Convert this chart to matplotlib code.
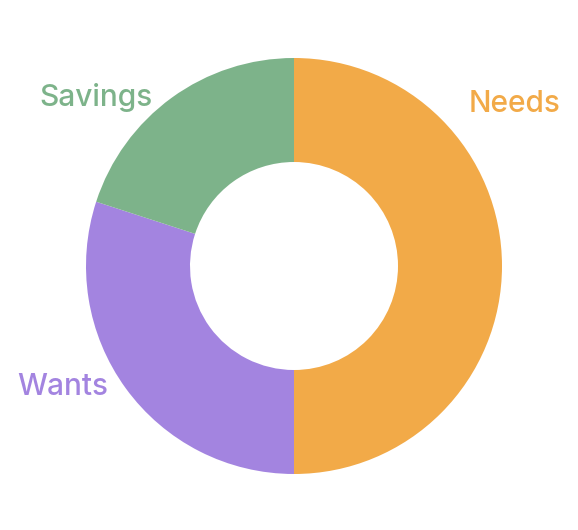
import matplotlib.pyplot as plt

categories = ["Needs", "Wants", "Savings"]
values = [50, 30, 20]
colors = ["#F2AA48", "#A384E0", "#7DB38A"]
label_pos = [(1.06, 0.78), (-1.11, -0.58), (-0.95, 0.81)]

W, H = 578, 530
cx, cy, R = 294, 266, 208
fig = plt.figure(figsize=(W / 100, H / 100), dpi=100)
ax = fig.add_axes([0, 0, 1, 1])
ax.pie(values, colors=colors, startangle=90, counterclock=False,
       radius=1.0, wedgeprops=dict(width=0.5, edgecolor="none"))
for cat, col, (x, y) in zip(categories, colors, label_pos):
    ax.text(x, y, cat, color=col, fontsize=21.5, ha="center", va="center",
            fontweight="medium", family=["Inter", "DejaVu Sans"])
ax.set_xlim(-cx / R, (W - cx) / R)
ax.set_ylim(-(H - cy) / R, cy / R)
ax.set_aspect("auto")
ax.axis("off")
fig.savefig("out.png", dpi=100)
